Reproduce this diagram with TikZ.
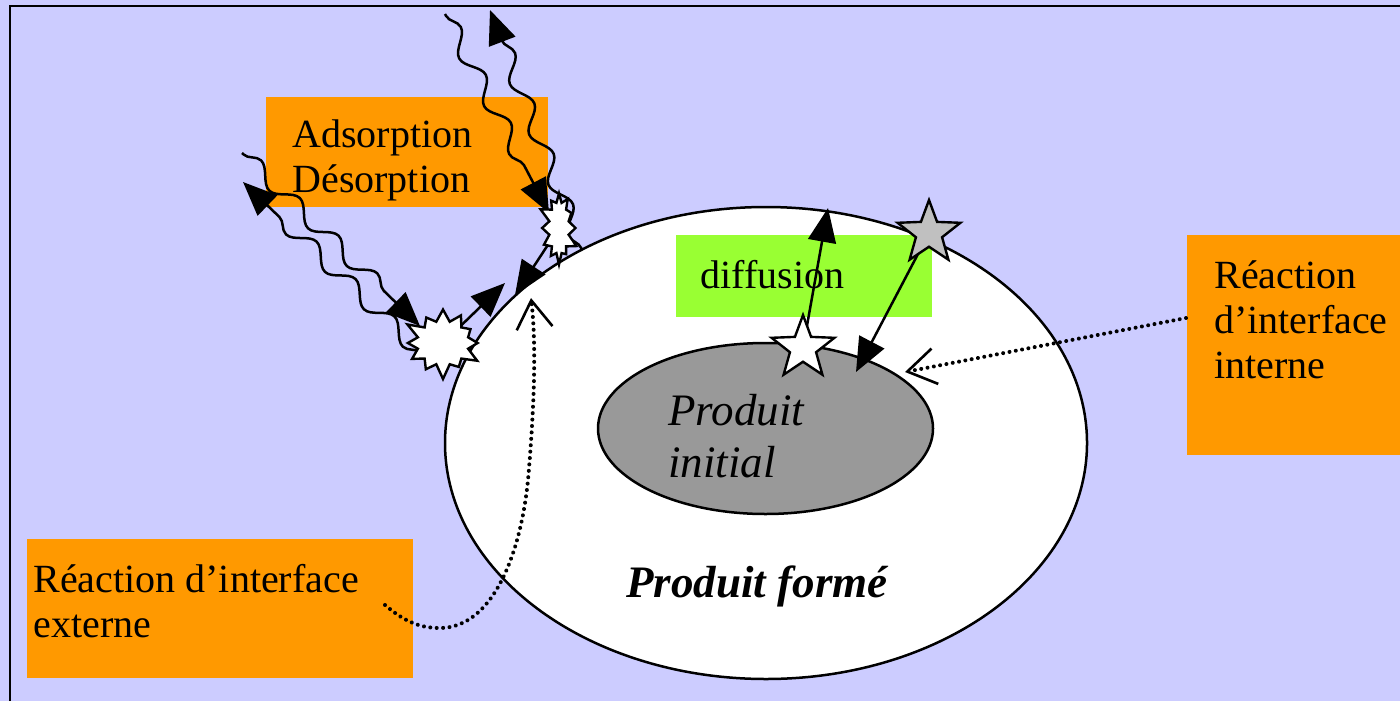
\documentclass[tikz,border=0pt]{standalone}
\usepackage{fontspec}
\setmainfont{Liberation Serif}
\usetikzlibrary{arrows.meta,shapes.geometric,shapes.symbols,decorations.pathmorphing}
\definecolor{bgblue}{HTML}{CCCCFF}
\definecolor{orangebox}{HTML}{FF9900}
\definecolor{greenbox}{HTML}{99FF33}
\definecolor{innergray}{HTML}{999999}
\definecolor{stargray}{HTML}{C0C0C0}
\begin{document}
\begin{tikzpicture}[x=0.5pt,y=-0.5pt,
  boxo/.style={fill=orangebox, inner sep=0pt, outer sep=0pt},
  boxg/.style={fill=greenbox, inner sep=0pt, outer sep=0pt},
  lbl/.style={inner sep=0pt, anchor=base west, align=left, font=\fontsize{20}{22.5}\selectfont},
  lblit/.style={inner sep=0pt, anchor=base west, align=left, font=\fontsize{22.5}{26}\selectfont\itshape},
  wavy/.style={line width=1.25pt, decorate, decoration={snake, segment length=27pt, amplitude=4pt, pre length=1pt, post length=16pt}, -{Triangle[length=17pt,width=14pt]}},
  solidarrow/.style={line width=1.25pt, -{Triangle[length=17pt,width=14pt]}},
  dots/.style={line width=2pt, dash pattern=on 0.01pt off 3.2pt, line cap=round},
  openarrow/.style={-{Straight Barb[length=14pt,width=18pt,line width=1.3pt]}},
  burst/.style={starburst, draw, fill=white, line width=1.2pt, starburst points=12, inner sep=0pt},
  fivestar/.style={star, star points=5, star point ratio=2.4, draw, line width=1.2pt, inner sep=0pt, minimum size=33pt}
]
% background and frame
\fill[bgblue] (0,0) rectangle (1400,701);
\useasboundingbox (0,0) rectangle (1400,701);
\draw[line width=1.3pt] (10,701) -- (10,6) -- (1400,6);

% particle
\node[ellipse, draw, fill=white, line width=1.25pt, minimum width=321pt, minimum height=236pt, inner sep=0pt] (formed) at (766,443) {};
\node[ellipse, draw, fill=innergray, line width=1.25pt, minimum width=167.5pt, minimum height=85.5pt, inner sep=0pt] (initial) at (765.5,428.5) {};

% boxes
\node[boxo, minimum width=141pt, minimum height=55pt] (adsbox) at (407,152) {};
\node[boxg, minimum width=128pt, minimum height=41pt] (difbox) at (804,276) {};
\node[boxo, minimum width=106.5pt, minimum height=110pt] (intbox) at (1293.5,345) {};
\node[boxo, minimum width=193pt, minimum height=69.5pt] (extbox) at (220,608.5) {};

% texts
\node[lbl] (adstxt) at (292,192) {Adsorption\\Désorption};
\node[lbl] (diftxt) at (700,288) {diffusion};
\node[lbl] (inttxt) at (1214,378) {Réaction\\d’interface\\interne};
\node[lbl] (exttxt) at (33,637) {Réaction d’interface\\externe};
\node[lblit] (initxt) at (668,477) {Produit\\initial};
\node[lblit, font=\fontsize{22.5}{26}\selectfont\bfseries\itshape] (fortxt) at (626,597) {Produit formé};

% anchor coordinates
\coordinate (b1) at (443,343);
\coordinate (b2) at (559,228);
\coordinate (ws) at (803,348);
\coordinate (gs) at (929,233);
\coordinate (up1s) at (445,14);
\coordinate (up2e) at (490,10);
\coordinate (lo1s) at (242,153);
\coordinate (lo2e) at (243,182);
\coordinate (b1in) at (420,326);
\coordinate (b1out) at (422,354);
\coordinate (b2in) at (549,213);
\coordinate (b2out) at (582,250);
\coordinate (s1tip) at (505,283);
\coordinate (s2tip) at (515,295);
\coordinate (dtip) at (828,208);
\coordinate (gtip) at (856,372);
\coordinate (intstart) at (1186,318);
\coordinate (inttip) at (905,372);
\coordinate (extstart) at (385,605);
\coordinate (exttip) at (531,298);

% wavy adsorption / desorption
\draw[wavy] (lo1s) -- (b1in);
\draw[wavy] (b1out) -- (lo2e);
\draw[wavy] (up1s) -- (b2in);
\draw[wavy] (b2out) -- (up2e);

% straight arrows towards surface
\draw[solidarrow] (b1) -- (s1tip);
\draw[solidarrow] (b2) -- (s2tip);

% diffusion arrows
\draw[solidarrow] (ws) -- (dtip);
\draw[solidarrow] (gs) -- (gtip);

% bursts and stars
\node[burst, minimum width=42pt, minimum height=38pt, starburst point height=8pt] (burst1) at (b1) {};
\node[burst, minimum width=22pt, minimum height=38pt, starburst point height=6pt] (burst2) at (b2) {};
\node[fivestar, fill=white] (wstar) at (ws) {};
\node[fivestar, fill=stargray] (gstar) at (gs) {};

% dotted indicators
\draw[dots, openarrow] (intstart) -- (inttip);
\draw[dots, openarrow] (extstart) .. controls (405,622) and (420,628) .. (440,628) .. controls (490,628) and (520,560) .. (528,480) .. controls (535,400) and (536,340) .. (exttip);
\end{tikzpicture}
\end{document}
